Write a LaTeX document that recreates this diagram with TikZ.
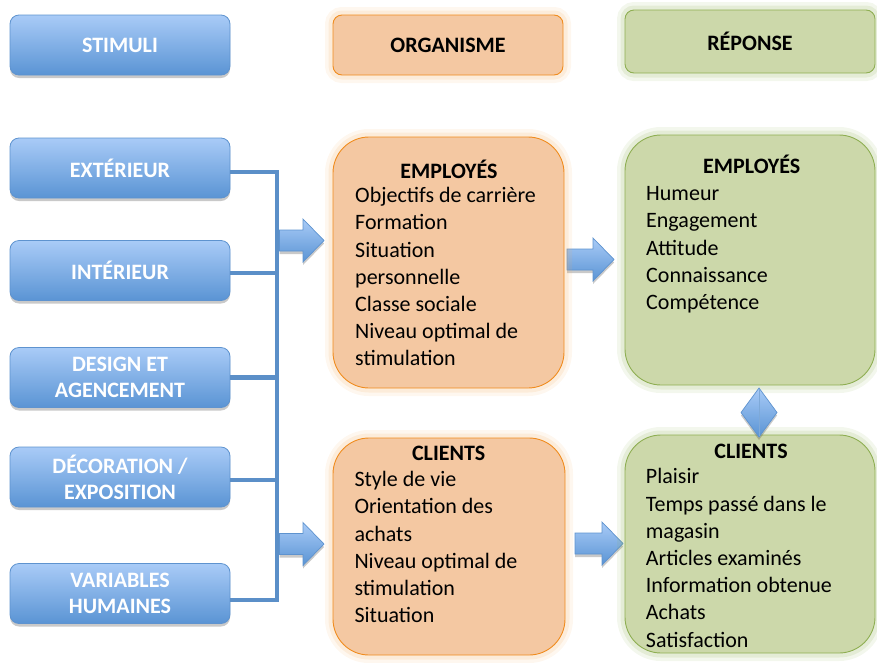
\documentclass[tikz,border=0pt]{standalone}
\usepackage{fontspec}
\setmainfont{Carlito}
\usetikzlibrary{shadows}
\definecolor{bluetop}{HTML}{A9CBF7}
\definecolor{bluebot}{HTML}{5A94D4}
\definecolor{blueline}{HTML}{5E93CF}
\definecolor{barblue}{HTML}{5B8FC8}
\definecolor{orfill}{HTML}{F4C8A2}
\definecolor{orline}{HTML}{F08C1E}
\definecolor{grfill}{HTML}{CCD8AA}
\definecolor{grline}{HTML}{8EAE52}
\newcommand\blockarr[4]{%
  \path[arrowsty] (#1,#4-10.5) -- (#2,#4-10.5) -- (#2,#4-21.5) -- (#3,#4)
     -- (#2,#4+21.5) -- (#2,#4+10.5) -- (#1,#4+10.5) -- cycle;}
\begin{document}
\begin{tikzpicture}[x=1pt,y=-1pt,
  softshadow/.style={drop shadow={shadow xshift=0pt,shadow yshift=-3pt,opacity=0.3,fill=black!70}},
  stimbox/.style={rounded corners=9pt, top color=bluetop, bottom color=bluebot,
    draw=blueline, line width=0.8pt, minimum width=220pt, minimum height=60pt,
    inner sep=0pt, text=white, font=\fontsize{22}{26}\selectfont\bfseries,
    align=center, softshadow},
  orglow/.style={preaction={draw=orline!70, line width=16pt, opacity=0.10},
    preaction={draw=orline!70, line width=9pt, opacity=0.15}},
  grglow/.style={preaction={draw=grline, line width=16pt, opacity=0.10},
    preaction={draw=grline, line width=9pt, opacity=0.15}},
  orhead/.style={rounded corners=9pt, fill=orfill, draw=orline, line width=0.9pt,
    minimum width=230pt, minimum height=60pt, inner sep=0pt,
    font=\fontsize{22}{26}\selectfont\bfseries, orglow},
  grhead/.style={rounded corners=9pt, fill=grfill, draw=grline, line width=0.9pt,
    minimum width=250pt, minimum height=63pt, inner sep=0pt,
    font=\fontsize{22}{26}\selectfont\bfseries, grglow},
  orbig/.style={rounded corners=36pt, fill=orfill, draw=orline, line width=0.9pt,
    inner sep=0pt, orglow},
  grbig/.style={rounded corners=36pt, fill=grfill, draw=grline, line width=0.9pt,
    inner sep=0pt, grglow},
  titletxt/.style={anchor=base, inner sep=0pt, font=\fontsize{22}{27.2}\selectfont\bfseries},
  bodytxt/.style={anchor=base west, inner sep=0pt, align=left, font=\fontsize{22}{27.2}\selectfont},
  bar/.style={draw=barblue, line width=4.5pt},
  arrowsty/.style={top color=bluetop, bottom color=bluebot, draw=blueline,
    line width=0.7pt, line join=miter, softshadow}
]
\useasboundingbox (0,0) rectangle (877,662);

% headers
\node[stimbox] (stim) at (120,45) {STIMULI};
\node[orhead] (org) at (448,45) {ORGANISME};
\node[grhead] (rep) at (750,41.5) {RÉPONSE};

% stimuli column
\node[stimbox] (ext) at (120,168) {EXTÉRIEUR};
\node[stimbox] (int) at (120,270.5) {INTÉRIEUR};
\node[stimbox] (des) at (120,377.5) {DESIGN ET\\AGENCEMENT};
\node[stimbox] (dec) at (120,477) {DÉCORATION /\\EXPOSITION};
\node[stimbox] (var) at (120,593.5) {VARIABLES\\HUMAINES};

% bar and connectors
\coordinate (bt) at (277,172);
\coordinate (bb) at (277,600);
\draw[bar, line cap=rect] (bt) -- (bb);
\draw[bar] (ext.east |- bt) -- (bt);
\draw[bar] ([yshift=-2.5pt]int.east) -- ([yshift=-2.5pt]int.east -| bt);
\draw[bar] (des.east) -- (des.east -| bt);
\draw[bar] ([yshift=-3pt]dec.east) -- ([yshift=-3pt]dec.east -| bt);
\draw[bar] (var.east |- bb) -- (bb);

% block arrows
\blockarr{279.5}{303}{324}{240.5}
\blockarr{279.5}{303}{324}{544}
\blockarr{567}{593}{614}{259.5}
\blockarr{575}{602}{623}{543.5}

% organisme boxes
\node[orbig, minimum width=231pt, minimum height=251pt] (oemp) at (448.5,262.5) {};
\node[orbig, minimum width=232pt, minimum height=217pt] (ocli) at (449,546.5) {};
% reponse boxes
\node[grbig, minimum width=250pt, minimum height=250pt] (gemp) at (750,260) {};
\node[grbig, minimum width=250pt, minimum height=218pt] (gcli) at (750,544) {};

% diamond
\path[arrowsty] (759,388) -- (777,412.5) -- (759,437) -- (741,412.5) -- cycle;
\draw[blueline!80!white, line width=0.6pt] (759,389) -- (759,436);

% texts (base anchor = baseline of the last line)
\node[titletxt] (oet) at (449,178) {EMPLOYÉS};
\node[bodytxt] (oeb) at (355,365.9) {Objectifs de carrière\\Formation\\Situation\\personnelle\\Classe sociale\\Niveau optimal de\\stimulation};
\node[titletxt] (oct) at (448.7,460) {CLIENTS};
\node[bodytxt] (ocb) at (354.3,622.7) {Style de vie\\Orientation des\\achats\\Niveau optimal de\\stimulation\\Situation};
\node[titletxt] (get) at (751.7,173) {EMPLOYÉS};
\node[bodytxt] (geb) at (646,309.5) {Humeur\\Engagement\\Attitude\\Connaissance\\Compétence};
\node[titletxt] (gct) at (751,458.3) {CLIENTS};
\node[bodytxt] (gcb) at (645.7,647) {Plaisir\\Temps passé dans le\\magasin\\Articles examinés\\Information obtenue\\Achats\\Satisfaction};
\end{tikzpicture}
\end{document}
